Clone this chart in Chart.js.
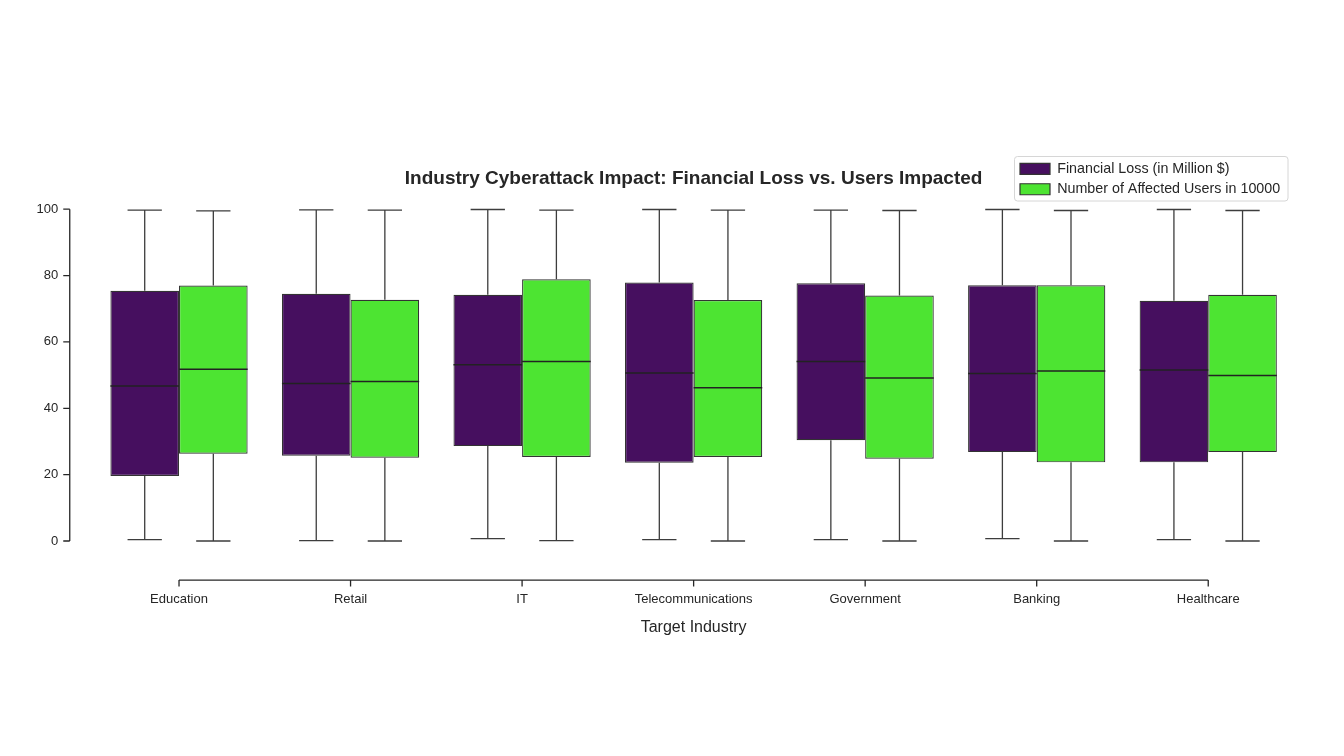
<!DOCTYPE html>
<html>
<head>
<meta charset="utf-8">
<script src="https://cdn.jsdelivr.net/npm/chart.js@4.4.1/dist/chart.umd.min.js"></script>
<style>
  html, body { margin: 0; padding: 0; background: #fff; }
  #wrap { width: 1344px; height: 756px; }
</style>
</head>
<body>
<div id="wrap"><canvas id="boxChart" width="1344" height="756"></canvas></div>
<script>
const categories = ['Education', 'Retail', 'IT', 'Telecommunications', 'Government', 'Banking', 'Healthcare'];
const yTicks = [0, 20, 40, 60, 80, 100];

// Financial Loss (in Million $)
const lossMin    = [0.4, 0.1, 0.7, 0.4, 0.4, 0.7, 0.4];
const lossQ1     = [19.6, 25.7, 28.6, 23.6, 30.4, 26.8, 23.7];
const lossMedian = [46.7, 47.5, 53.1, 50.6, 54.1, 50.5, 51.5];
const lossQ3     = [75.4, 74.5, 74.2, 77.9, 77.7, 77.1, 72.4];
const lossMax    = [99.7, 99.8, 99.9, 99.9, 99.7, 99.9, 99.9];

// Number of Affected Users in 10000
const usersMin    = [0.0, 0.0, 0.1, 0.0, 0.0, 0.0, 0.0];
const usersQ1     = [26.3, 25.1, 25.3, 25.3, 24.8, 23.7, 26.8];
const usersMedian = [51.8, 48.1, 54.1, 46.2, 49.1, 51.2, 49.9];
const usersQ3     = [77.0, 72.7, 78.9, 72.6, 74.0, 77.1, 74.2];
const usersMax    = [99.5, 99.7, 99.7, 99.7, 99.6, 99.6, 99.6];

const whiskers = [
    { min: lossMin, median: lossMedian, max: lossMax },
    { min: usersMin, median: usersMedian, max: usersMax }
];

const FONT = "'Liberation Sans', Arial, sans-serif";
const INK = '#262626';

// seaborn-style boxplot extras: whiskers, caps, medians, offset spines, legend frame
const boxExtras = {
    id: 'boxExtras',
    afterLayout(chart) {
        const area = chart.chartArea;
        const title = chart.titleBlock;
        if (title) { title.left = area.left; title.right = area.right; }
        const lg = chart.legend;
        if (lg) {
            const w = lg.width, h = lg.height;
            lg.left = 1014; lg.right = lg.left + w;
            lg.top = 155.8; lg.bottom = lg.top + h;
        }
    },
    beforeDraw(chart) {
        const ctx = chart.ctx;
        ctx.save();
        ctx.fillStyle = '#ffffff';
        ctx.fillRect(0, 0, chart.width, chart.height);
        const lg = chart.legend;
        if (lg) {
            const x = 1014.5, y = 156.5, w = 1288 - 1014.5, h = 44.5;
            ctx.beginPath();
            ctx.roundRect(x, y, w, h, 3);
            ctx.fillStyle = 'rgba(255,255,255,0.85)';
            ctx.fill();
            ctx.strokeStyle = '#d6d6d6';
            ctx.lineWidth = 1;
            ctx.stroke();
        }
        ctx.restore();
    },
    afterDatasetsDraw(chart) {
        const ctx = chart.ctx;
        const y = chart.scales.y;
        const x = chart.scales.x;
        const area = chart.chartArea;
        ctx.save();
        ctx.lineCap = 'butt';
        whiskers.forEach((w, di) => {
            const meta = chart.getDatasetMeta(di);
            meta.data.forEach((bar, i) => {
                const cx = bar.x;
                const half = bar.width / 2;
                const q1 = chart.data.datasets[di].data[i][0];
                const q3 = chart.data.datasets[di].data[i][1];
                ctx.strokeStyle = '#3d3d3d';
                ctx.lineWidth = 1.3;
                ctx.beginPath();
                ctx.moveTo(cx, y.getPixelForValue(q3));
                ctx.lineTo(cx, y.getPixelForValue(w.max[i]));
                ctx.moveTo(cx - half / 2, y.getPixelForValue(w.max[i]));
                ctx.lineTo(cx + half / 2, y.getPixelForValue(w.max[i]));
                ctx.moveTo(cx, y.getPixelForValue(q1));
                ctx.lineTo(cx, y.getPixelForValue(w.min[i]));
                ctx.moveTo(cx - half / 2, y.getPixelForValue(w.min[i]));
                ctx.lineTo(cx + half / 2, y.getPixelForValue(w.min[i]));
                ctx.stroke();
                ctx.strokeStyle = '#222222';
                ctx.lineWidth = 1.5;
                ctx.beginPath();
                ctx.moveTo(cx - half, y.getPixelForValue(w.median[i]));
                ctx.lineTo(cx + half, y.getPixelForValue(w.median[i]));
                ctx.stroke();
            });
        });

        // offset + trimmed spines
        ctx.strokeStyle = INK;
        ctx.lineWidth = 1.3;
        const sx = area.left - 23.5;
        const y0 = y.getPixelForValue(yTicks[0]);
        const y1 = y.getPixelForValue(yTicks[yTicks.length - 1]);
        ctx.beginPath();
        ctx.moveTo(sx, y0);
        ctx.lineTo(sx, y1);
        yTicks.forEach(t => {
            const py = y.getPixelForValue(t);
            ctx.moveTo(sx, py);
            ctx.lineTo(sx - 6.5, py);
        });
        const sy = area.bottom + 22.5;
        const x0 = x.getPixelForValue(0);
        const x1 = x.getPixelForValue(categories.length - 1);
        ctx.moveTo(x0, sy);
        ctx.lineTo(x1, sy);
        categories.forEach((c, i) => {
            const px = x.getPixelForValue(i);
            ctx.moveTo(px, sy);
            ctx.lineTo(px, sy + 6.5);
        });
        ctx.stroke();
        ctx.restore();
    }
};

const ctx = document.getElementById('boxChart').getContext('2d');

const boxChart = new Chart(ctx, {
    type: 'bar',
    data: {
        labels: categories,
        datasets: [{
            label: 'Financial Loss (in Million $)',
            data: categories.map((c, i) => [lossQ1[i], lossQ3[i]]),
            backgroundColor: '#460f5f',
            borderColor: '#333333',
            borderWidth: 1.2,
            borderSkipped: false
        }, {
            label: 'Number of Affected Users in 10000',
            data: categories.map((c, i) => [usersQ1[i], usersQ3[i]]),
            backgroundColor: '#4de432',
            borderColor: '#333333',
            borderWidth: 1.2,
            borderSkipped: false
        }]
    },
    options: {
        responsive: false,
        animation: false,
        devicePixelRatio: 1,
        categoryPercentage: 0.8,
        barPercentage: 1.0,
        layout: {
            padding: { left: 0, right: 50, top: 167.6, bottom: 118.4 }
        },
        scales: {
            x: {
                grid: { display: false, drawTicks: false },
                border: { display: false },
                ticks: {
                    padding: 34.5,
                    color: INK,
                    font: { family: FONT, size: 13 }
                },
                title: {
                    display: true,
                    text: 'Target Industry',
                    color: INK,
                    padding: 0,
                    font: { family: FONT, size: 16 }
                },
                afterFit: (scale) => { scale.height = 80; }
            },
            y: {
                min: -5,
                max: 105,
                grid: { display: false, drawTicks: false },
                border: { display: false },
                afterBuildTicks: (scale) => { scale.ticks = yTicks.map(v => ({ value: v })); },
                ticks: {
                    padding: 35,
                    color: INK,
                    font: { family: FONT, size: 13 }
                },
                afterFit: (scale) => { scale.width = 93.25; }
            }
        },
        plugins: {
            title: {
                display: true,
                text: 'Industry Cyberattack Impact: Financial Loss vs. Users Impacted',
                color: INK,
                padding: { top: 0, bottom: 2.2 },
                font: { family: FONT, size: 19, weight: 'bold' }
            },
            legend: {
                position: 'chartArea',
                align: 'start',
                labels: {
                    boxWidth: 30,
                    boxHeight: 11,
                    padding: 6,
                    color: INK,
                    font: { family: FONT, size: 14.3 }
                }
            },
            tooltip: { enabled: false }
        }
    },
    plugins: [boxExtras]
});
</script>
</body>
</html>
